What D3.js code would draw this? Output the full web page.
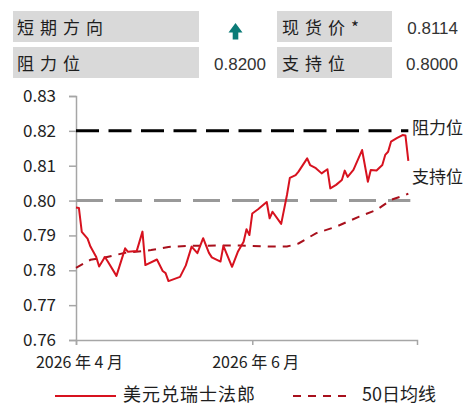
<!DOCTYPE html>
<html>
<head>
<meta charset="utf-8">
<script src="https://cdn.jsdelivr.net/npm/d3@7/dist/d3.min.js"></script>
<style>
  html, body { margin: 0; padding: 0; background: #fff; }
  svg { display: block; }
  .cjk { font-family: "Noto Sans CJK SC", "Noto Sans", sans-serif; }
  .num { font-family: "Liberation Sans", Arial, sans-serif; }
</style>
</head>
<body>
<div id="chart"></div>
<script>
// USD/CHF daily close
var priceDates = ["2026-04-01","2026-04-02","2026-04-03","2026-04-05","2026-04-06","2026-04-08","2026-04-09",
    "2026-04-11","2026-04-12","2026-04-15","2026-04-18","2026-04-19","2026-04-22","2026-04-24","2026-04-25",
    "2026-04-29","2026-05-01","2026-05-02","2026-05-03","2026-05-07","2026-05-09","2026-05-11","2026-05-13",
    "2026-05-15","2026-05-17","2026-05-18","2026-05-21","2026-05-22","2026-05-25","2026-05-27","2026-05-29",
    "2026-05-30","2026-05-31","2026-06-01","2026-06-03","2026-06-06","2026-06-07","2026-06-08","2026-06-11",
    "2026-06-13","2026-06-14","2026-06-16","2026-06-17","2026-06-20","2026-06-21","2026-06-23","2026-06-25",
    "2026-06-27","2026-06-28","2026-06-30","2026-07-02","2026-07-03","2026-07-04","2026-07-06","2026-07-09",
    "2026-07-11","2026-07-12","2026-07-14","2026-07-16","2026-07-17","2026-07-18","2026-07-19","2026-07-21",
    "2026-07-23","2026-07-24","2026-07-25"];
var priceValues = [0.7980,0.7979,0.7910,0.7891,0.7868,0.7838,0.7811,
    0.7838,0.7825,0.7784,0.7863,0.7853,0.7855,0.7911,0.7815,
    0.7831,0.7798,0.7792,0.7769,0.7781,0.7814,0.7868,0.7849,
    0.7892,0.7850,0.7837,0.7825,0.7870,0.7810,0.7853,0.7882,
    0.7918,0.7901,0.7963,0.7975,0.7996,0.7949,0.7968,0.7933,
    0.8016,0.8065,0.8073,0.8083,0.8121,0.8102,0.8093,0.8078,
    0.8090,0.8035,0.8045,0.8059,0.8086,0.8068,0.8088,0.8145,
    0.8054,0.8088,0.8086,0.8102,0.8131,0.8140,0.8169,0.8179,
    0.8188,0.8187,0.8114];

// 50-day moving average
var maDates = ["2026-04-01","2026-04-06","2026-04-10","2026-04-18","2026-04-27","2026-05-03","2026-05-10",
    "2026-05-21","2026-05-28","2026-06-07","2026-06-13","2026-06-17","2026-06-23","2026-06-30","2026-07-08",
    "2026-07-14","2026-07-19","2026-07-24","2026-07-25"];
var maValues = [0.7807,0.7830,0.7835,0.7850,0.7858,0.7867,0.7870,
    0.7871,0.7871,0.7868,0.7868,0.7877,0.7906,0.7925,0.7954,
    0.7973,0.8002,0.8016,0.8020];

var resistance = 0.82;
var support = 0.80;
var spot = 0.8114;

var yTicks = [0.76, 0.77, 0.78, 0.79, 0.80, 0.81, 0.82, 0.83];
var xTicks = ["2026-04-01", "2026-06-01"];
var xTickLabels = ["2026 年 4 月", "2026 年 6 月"];
var seriesNames = ["美元兑瑞士法郎", "50日均线"];
var levelNames = ["阻力位", "支持位"];
var tableLabels = [["短期方向", "现货价*"], ["阻力位", "支持位"]];

var W = 467, H = 411;
var parse = d3.timeParse("%Y-%m-%d");
var red = "#d7121f", maRed = "#a8101c";

var svg = d3.select("#chart").append("svg")
    .attr("width", W).attr("height", H);

/* header table */
var head = svg.append("g");
var rowTop = [11, 47], rowH = 31;
rowTop.forEach(function (t, i) {
    head.append("rect").attr("x", 13).attr("y", t).attr("width", 186).attr("height", rowH).attr("fill", "#d9d9d9");
    head.append("rect").attr("x", 277).attr("y", t).attr("width", 115).attr("height", rowH).attr("fill", "#d9d9d9");
    head.append("text").attr("class", "cjk").attr("x", 17).attr("y", t + rowH / 2 + 3)
        .attr("dominant-baseline", "middle").attr("font-size", 17).attr("letter-spacing", 6)
        .attr("fill", "#1e1e1e").text(tableLabels[i][0]);
    head.append("text").attr("class", "cjk").attr("x", 282).attr("y", t + rowH / 2 + 3)
        .attr("dominant-baseline", "middle").attr("font-size", 17).attr("letter-spacing", 6)
        .attr("fill", "#1e1e1e").text(tableLabels[i][1]);
});
// up arrow (short-term direction)
head.append("path")
    .attr("d", "M235.5,23 L242.5,32.5 L238.3,32.5 L238.3,39.5 L232.7,39.5 L232.7,32.5 L228.5,32.5 Z")
    .attr("fill", "#0b7b77");
head.append("text").attr("class", "num").attr("x", 266).attr("y", 47 + rowH / 2 + 3)
    .attr("text-anchor", "end").attr("dominant-baseline", "middle").attr("font-size", 17)
    .attr("fill", "#333").text(resistance.toFixed(4));
head.append("text").attr("class", "num").attr("x", 458).attr("y", 11 + rowH / 2 + 3)
    .attr("text-anchor", "end").attr("dominant-baseline", "middle").attr("font-size", 17)
    .attr("fill", "#333").text(spot.toFixed(4));
head.append("text").attr("class", "num").attr("x", 458).attr("y", 47 + rowH / 2 + 3)
    .attr("text-anchor", "end").attr("dominant-baseline", "middle").attr("font-size", 17)
    .attr("fill", "#333").text(support.toFixed(4));

/* scales */
var x = d3.scaleTime()
    .domain([parse("2026-04-01"), parse("2026-07-28")])
    .range([76, 417]);
var y = d3.scaleLinear().domain([0.76, 0.83]).range([340, 96]);

var price = priceDates.map(function (d, i) { return { date: parse(d), value: priceValues[i] }; });
var ma = maDates.map(function (d, i) { return { date: parse(d), value: maValues[i] }; });
var lastDate = price[price.length - 1].date;

/* axes */
var yAxis = svg.append("g").attr("transform", "translate(76,0)")
    .call(d3.axisLeft(y).tickValues(yTicks).tickSize(7).tickPadding(13).tickFormat(d3.format(".2f")));
yAxis.select(".domain").attr("stroke", "#a6a6a6").attr("stroke-width", 1.5);
yAxis.selectAll(".tick line").attr("stroke", "#a6a6a6").attr("stroke-width", 1.5);
yAxis.selectAll(".tick text").attr("class", "cjk").attr("font-size", 17).attr("fill", "#222");

var xAxis = svg.append("g").attr("transform", "translate(0,340)")
    .call(d3.axisBottom(x).tickValues(xTicks.map(parse)).tickSize(5).tickPadding(12)
        .tickFormat(function (d, i) { return xTickLabels[i]; }));
xAxis.select(".domain").attr("stroke", "#a6a6a6").attr("stroke-width", 1.5);
xAxis.selectAll(".tick line").attr("stroke", "#a6a6a6").attr("stroke-width", 1.5);
xAxis.selectAll(".tick text").attr("class", "cjk").attr("font-size", 16).attr("fill", "#222")
    .attr("dx", 3);

/* support / resistance lines */
svg.append("line").attr("x1", x.range()[0]).attr("x2", x(lastDate))
    .attr("y1", y(resistance)).attr("y2", y(resistance))
    .attr("stroke", "#000").attr("stroke-width", 3).attr("stroke-dasharray", "23,9.5");
svg.append("line").attr("x1", x.range()[0]).attr("x2", x(lastDate) + 2)
    .attr("y1", y(support)).attr("y2", y(support))
    .attr("stroke", "#999").attr("stroke-width", 3).attr("stroke-dasharray", "27,12");

/* series */
var line = d3.line().x(function (d) { return x(d.date); }).y(function (d) { return y(d.value); });
svg.append("path").datum(ma).attr("d", line).attr("fill", "none")
    .attr("stroke", maRed).attr("stroke-width", 2).attr("stroke-dasharray", "8,7");
svg.append("path").datum(price).attr("d", line).attr("fill", "none")
    .attr("stroke", red).attr("stroke-width", 2).attr("stroke-linejoin", "round");

/* level labels */
svg.append("text").attr("class", "cjk").attr("x", 412).attr("y", y(resistance) - 1)
    .attr("dominant-baseline", "middle").attr("font-size", 17).attr("fill", "#1e1e1e").text(levelNames[0]);
svg.append("text").attr("class", "cjk").attr("x", 412).attr("y", y(support) - 22)
    .attr("dominant-baseline", "middle").attr("font-size", 17).attr("fill", "#1e1e1e").text(levelNames[1]);

/* legend */
var lg = svg.append("g").attr("transform", "translate(0,396)");
lg.append("line").attr("x1", 55).attr("x2", 116).attr("y1", 0).attr("y2", 0)
    .attr("stroke", red).attr("stroke-width", 2);
lg.append("text").attr("class", "cjk").attr("x", 123).attr("y", 0).attr("dominant-baseline", "middle")
    .attr("font-size", 18).attr("letter-spacing", 1).attr("fill", "#1e1e1e").text(seriesNames[0]);
lg.append("line").attr("x1", 293).attr("x2", 352).attr("y1", 0).attr("y2", 0)
    .attr("stroke", maRed).attr("stroke-width", 2).attr("stroke-dasharray", "8,7");
lg.append("text").attr("class", "cjk").attr("x", 362).attr("y", 0).attr("dominant-baseline", "middle")
    .attr("font-size", 18).attr("fill", "#1e1e1e").text(seriesNames[1]);
</script>
</body>
</html>
